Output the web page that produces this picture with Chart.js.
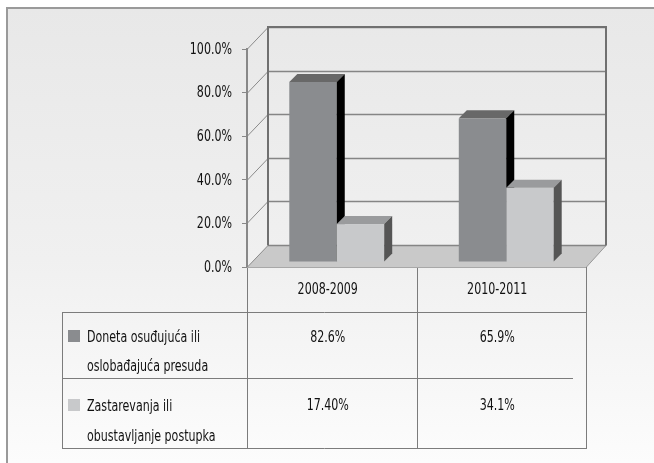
<!DOCTYPE html>
<html>
<head>
<meta charset="utf-8">
<script src="https://cdn.jsdelivr.net/npm/chart.js@4/dist/chart.umd.min.js"></script>
<style>
  html, body { margin: 0; padding: 0; background: #fff; }
  #wrap { width: 654px; height: 463px; position: relative; }
</style>
</head>
<body>
<div id="wrap"><canvas id="c" width="654" height="463"></canvas></div>
<script>
// ---- data ----
const categories = ["2008-2009", "2010-2011"];
const seriesNames = [
  ["Doneta osuđujuća ili", "oslobađajuća presuda"],
  ["Zastarevanja ili", "obustavljanje postupka"]
];
const seriesA = [82.6, 65.9];
const seriesB = [17.4, 34.1];
const tableA = ["82.6%", "65.9%"];
const tableB = ["17.40%", "34.1%"];
const yTicks = [0, 20, 40, 60, 80, 100];

const FONT = "'DejaVu Sans Condensed', 'DejaVu Sans', sans-serif";
const FONT_PX = 15;
const SQUEEZE = 0.82;
const faces = [
  { front: '#8a8c8f', top: '#686868', side: '#000000', legend: '#8a8c8f' },
  { front: '#c8c9cb', top: '#9a9b9d', side: '#555555', legend: '#c8c9cb' }
];
// 3D geometry
const WALL_DX = 21, WALL_DY = 22;
const BAR_FX = 5, BAR_FY = 5;   // bar front-plane offset
const BAR_DX = 8, BAR_DY = 8;   // bar depth

function text(ctx, s, x, y, align) {
  ctx.save();
  ctx.translate(x, y);
  ctx.scale(SQUEEZE, 1);
  ctx.font = FONT_PX + 'px ' + FONT;
  ctx.textAlign = align;
  ctx.textBaseline = 'middle';
  ctx.fillStyle = '#111';
  ctx.fillText(s, 0, 0);
  ctx.restore();
}

const scene = {
  id: 'scene',
  beforeDraw(chart) {
    const ctx = chart.ctx, W = chart.width, H = chart.height;
    const a = chart.chartArea, ys = chart.scales.y;
    ctx.save();
    ctx.fillStyle = '#ffffff';
    ctx.fillRect(0, 0, W, H);
    const g = ctx.createLinearGradient(0, 8, 0, H);
    g.addColorStop(0, '#e8e8e8');
    g.addColorStop(0.55, '#f0f0f0');
    g.addColorStop(1, '#fcfcfc');
    ctx.fillStyle = g;
    ctx.fillRect(8, 9, W - 8, H - 9);
    // outer frame (top & left)
    ctx.strokeStyle = '#9a9a9a';
    ctx.lineWidth = 2;
    ctx.beginPath();
    ctx.moveTo(7, H); ctx.lineTo(7, 8); ctx.lineTo(W, 8);
    ctx.stroke();

    const L = a.left, R = a.right, T = a.top, B = a.bottom;
    // floor
    ctx.fillStyle = '#c9c9c9';
    ctx.beginPath();
    ctx.moveTo(L, B + 0.5); ctx.lineTo(R, B + 0.5);
    ctx.lineTo(R + WALL_DX - 1, B - WALL_DY + 0.5); ctx.lineTo(L + WALL_DX, B - WALL_DY + 0.5);
    ctx.closePath();
    ctx.fill();
    ctx.strokeStyle = '#9a9a9a';
    ctx.lineWidth = 1;
    ctx.beginPath();
    ctx.moveTo(R, B + 0.5); ctx.lineTo(R + WALL_DX - 1, B - WALL_DY + 0.5);
    ctx.stroke();

    // back wall gridlines + left wall diagonals
    ctx.strokeStyle = '#858585';
    ctx.lineWidth = 1.5;
    yTicks.forEach(v => {
      const y = Math.round(ys.getPixelForValue(v)) + 0.5;
      ctx.beginPath();
      ctx.moveTo(L + WALL_DX, y - WALL_DY);
      ctx.lineTo(R + WALL_DX - 1, y - WALL_DY);
      ctx.stroke();
    });
    ctx.lineWidth = 1;
    ctx.strokeStyle = '#8a8a8a';
    yTicks.forEach(v => {
      const y = Math.round(ys.getPixelForValue(v)) + 0.5;
      ctx.beginPath();
      ctx.moveTo(L, y);
      ctx.lineTo(L + WALL_DX, y - WALL_DY);
      ctx.stroke();
    });
    // back wall edges
    ctx.strokeStyle = '#707070';
    ctx.lineWidth = 2;
    ctx.beginPath();
    ctx.moveTo(L + WALL_DX, B - WALL_DY + 0.5);
    ctx.lineTo(L + WALL_DX, T - WALL_DY);
    ctx.lineTo(R + WALL_DX - 1, T - WALL_DY);
    ctx.lineTo(R + WALL_DX - 1, B - WALL_DY + 0.5);
    ctx.stroke();
    ctx.restore();
  },
  afterDatasetsDraw(chart) {
    const ctx = chart.ctx;
    const metas = [chart.getDatasetMeta(0), chart.getDatasetMeta(1)];
    ctx.save();
    for (let i = 0; i < categories.length; i++) {
      metas.forEach((m, d) => {
        const el = m.data[i];
        const f = faces[d];
        const x0 = el.x - el.width / 2 + BAR_FX;
        const x1 = el.x + el.width / 2 + BAR_FX;
        const yt = el.y - BAR_FY;
        const yb = el.base - BAR_FY;
        ctx.fillStyle = f.front;
        ctx.fillRect(x0, yt, x1 - x0, yb - yt);
        ctx.fillStyle = f.top;
        ctx.beginPath();
        ctx.moveTo(x0, yt); ctx.lineTo(x1, yt);
        ctx.lineTo(x1 + BAR_DX, yt - BAR_DY); ctx.lineTo(x0 + BAR_DX, yt - BAR_DY);
        ctx.closePath(); ctx.fill();
        ctx.fillStyle = f.side;
        ctx.beginPath();
        ctx.moveTo(x1, yt); ctx.lineTo(x1 + BAR_DX, yt - BAR_DY);
        ctx.lineTo(x1 + BAR_DX, yb - BAR_DY); ctx.lineTo(x1, yb);
        ctx.closePath(); ctx.fill();
      });
    }
    ctx.restore();
  },
  afterDraw(chart) {
    const ctx = chart.ctx, a = chart.chartArea, xs = chart.scales.x, ys = chart.scales.y;
    const L = a.left, R = a.right, B = a.bottom;
    const tblLeft = 62, rowTop = 312, rowMid = 378, rowBot = 448;
    const half = (xs.getPixelForValue(1) - xs.getPixelForValue(0)) / 2;
    const mid = xs.getPixelForValue(0) + half;
    ctx.save();
    ctx.strokeStyle = '#7c7c7c';
    ctx.lineWidth = 1;
    const line = (x1, y1, x2, y2) => { ctx.beginPath(); ctx.moveTo(x1, y1); ctx.lineTo(x2, y2); ctx.stroke(); };
    [L, mid, R].forEach(x => line(Math.round(x) + 0.5, B, Math.round(x) + 0.5, rowBot + 0.5));
    line(tblLeft + 0.5, rowTop + 0.5, tblLeft + 0.5, rowBot + 0.5);
    line(tblLeft, rowTop + 0.5, R + 1, rowTop + 0.5);
    line(tblLeft, rowMid + 0.5, R - 13, rowMid + 0.5);
    line(tblLeft, rowBot + 0.5, R + 1, rowBot + 0.5);
    ctx.strokeStyle = '#a8a8a8';
    line(L, B + 0.5, R, B + 0.5);

    // y tick labels (from the library's y scale)
    ys.ticks.forEach(t => {
      text(ctx, t.value.toFixed(1) + '%', 232, ys.getPixelForValue(t.value) + 1, 'right');
    });

    categories.forEach((c, i) => {
      const cx = xs.getPixelForValue(i) - 4;
      text(ctx, c, cx, 290, 'center');
      text(ctx, tableA[i], cx, 338, 'center');
      text(ctx, tableB[i], cx, 406, 'center');
    });
    const rows = [[338, 367], [407, 437]];
    seriesNames.forEach((lines, d) => {
      ctx.fillStyle = faces[d].legend;
      ctx.fillRect(68, rows[d][0] - 8, 12, 12);
      lines.forEach((t, k) => text(ctx, t, 87, rows[d][k], 'left'));
    });
    ctx.restore();
  }
};

new Chart(document.getElementById('c'), {
  type: 'bar',
  data: {
    labels: categories,
    datasets: [
      { label: seriesNames[0].join(' '), data: seriesA, backgroundColor: 'rgba(0,0,0,0)', borderWidth: 0 },
      { label: seriesNames[1].join(' '), data: seriesB, backgroundColor: 'rgba(0,0,0,0)', borderWidth: 0 }
    ]
  },
  options: {
    responsive: false,
    animation: false,
    devicePixelRatio: 1,
    layout: { padding: { top: 49, bottom: 196, left: 0, right: 68 } },
    datasets: { bar: { barPercentage: 1, categoryPercentage: 0.56 } },
    plugins: { legend: { display: false }, tooltip: { enabled: false }, title: { display: false } },
    scales: {
      x: { display: false, offset: true },
      y: {
        min: 0, max: 100,
        afterFit(s) { s.width = 247; },
        afterBuildTicks(s) { s.ticks = yTicks.map(v => ({ value: v })); },
        ticks: { display: false },
        grid: { drawOnChartArea: false, drawTicks: true, tickLength: 5, color: '#888', lineWidth: 1 },
        border: { display: true, color: '#888', width: 2 }
      }
    }
  },
  plugins: [scene]
});
</script>
</body>
</html>
